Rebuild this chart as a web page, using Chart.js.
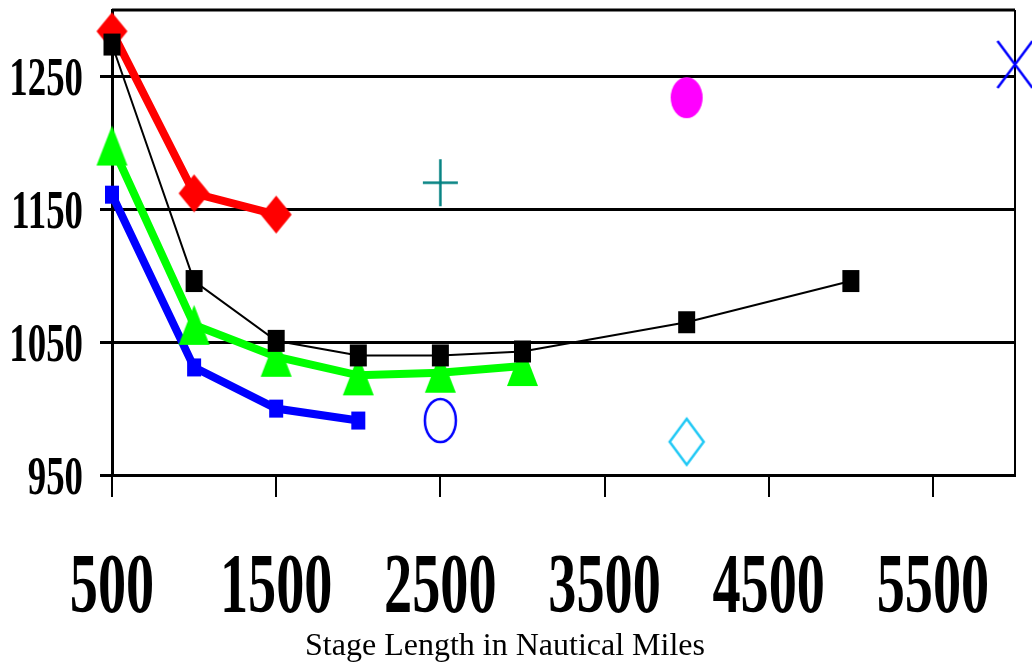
<!DOCTYPE html>
<html>
<head>
<meta charset="utf-8">
<script src="https://cdn.jsdelivr.net/npm/chart.js@4/dist/chart.umd.min.js"></script>
<style>
  html, body { margin: 0; padding: 0; background: #fff; }
</style>
</head>
<body>
<canvas id="stageChart" width="1032" height="663"></canvas>
<script>
// stage length (nautical miles) and values per series
const stagesRed = [500, 1000, 1500];
const valuesRed = [1284, 1162, 1146];
const stagesBlack = [500, 1000, 1500, 2000, 2500, 3000, 4000, 5000];
const valuesBlack = [1274, 1096, 1051, 1040, 1040, 1043, 1065, 1096];
const stagesGreen = [500, 1000, 1500, 2000, 2500, 3000];
const valuesGreen = [1198, 1063, 1039, 1025, 1027, 1032];
const stagesBlue = [500, 1000, 1500, 2000];
const valuesBlue = [1161, 1031, 1000, 991];

// single marker points: plus, open circle, filled ellipse, open diamond, x
const singleStages = [2500, 2500, 4000, 4000, 6000];
const singleValues = [1170, 991, 1234, 975, 1259];

const xTicks = [500, 1500, 2500, 3500, 4500, 5500];
const yTicks = [950, 1050, 1150, 1250];
const xTitle = 'Stage Length in Nautical Miles';

function pts(xs, ys) {
    return xs.map((x, i) => ({ x: x, y: ys[i] }));
}

// small canvas used as a point style (markers in the original are taller than wide)
function marker(shape, w, h, fill, stroke, lw) {
    const c = document.createElement('canvas');
    const pad = Math.ceil(lw || 0) + 1;
    c.width = w + pad * 2;
    c.height = h + pad * 2;
    const g = c.getContext('2d');
    const cx = c.width / 2, cy = c.height / 2, rx = w / 2, ry = h / 2;
    g.beginPath();
    if (shape === 'diamond') {
        g.moveTo(cx, cy - ry); g.lineTo(cx + rx, cy); g.lineTo(cx, cy + ry); g.lineTo(cx - rx, cy); g.closePath();
    } else if (shape === 'square') {
        g.rect(cx - rx, cy - ry, w, h);
    } else if (shape === 'triangle') {
        g.moveTo(cx, cy - ry); g.lineTo(cx + rx, cy + ry); g.lineTo(cx - rx, cy + ry); g.closePath();
    } else if (shape === 'ellipse') {
        g.ellipse(cx, cy, rx, ry, 0, 0, Math.PI * 2);
    } else if (shape === 'plus') {
        g.moveTo(cx - rx, cy); g.lineTo(cx + rx, cy); g.moveTo(cx, cy - ry); g.lineTo(cx, cy + ry);
    } else if (shape === 'x') {
        g.moveTo(cx - rx, cy - ry); g.lineTo(cx + rx, cy + ry); g.moveTo(cx + rx, cy - ry); g.lineTo(cx - rx, cy + ry);
    }
    if (fill) { g.fillStyle = fill; g.fill(); }
    if (stroke) { g.strokeStyle = stroke; g.lineWidth = lw; g.stroke(); }
    return c;
}

// draws text squeezed horizontally like the original labels
function narrowText(ctx, text, x, y, align, sx) {
    ctx.save();
    ctx.translate(x, y);
    ctx.scale(sx, 1);
    ctx.textAlign = align;
    ctx.textBaseline = 'alphabetic';
    ctx.fillText(text, 0, 0);
    ctx.restore();
}

const framePlugin = {
    id: 'frame',
    beforeDatasetsDraw(chart) {
        const { ctx, chartArea } = chart;
        ctx.save();
        ctx.strokeStyle = '#000';
        ctx.lineWidth = 3;
        ctx.beginPath();
        ctx.moveTo(chartArea.left, chartArea.top);
        ctx.lineTo(chartArea.right, chartArea.top);
        ctx.stroke();
        ctx.lineWidth = 2;
        ctx.beginPath();
        ctx.moveTo(chartArea.right, chartArea.top);
        ctx.lineTo(chartArea.right, chartArea.bottom);
        ctx.stroke();
        ctx.restore();
    },
    afterDraw(chart) {
        const { ctx, scales } = chart;
        ctx.save();
        ctx.fillStyle = '#000';
        ctx.font = 'bold 55px "Liberation Serif", serif';
        yTicks.forEach(v => {
            narrowText(ctx, String(v), 83, scales.y.getPixelForValue(v) + 19, 'right', 0.67);
        });
        ctx.font = 'bold 84px "Liberation Serif", serif';
        xTicks.forEach(v => {
            narrowText(ctx, String(v), scales.x.getPixelForValue(v), 612, 'center', 0.67);
        });
        ctx.font = '32px "Liberation Serif", serif';
        ctx.textAlign = 'center';
        ctx.textBaseline = 'alphabetic';
        ctx.fillText(xTitle, 505, 655);
        ctx.restore();
    }
};

const ctx = document.getElementById('stageChart').getContext('2d');
new Chart(ctx, {
    type: 'scatter',
    data: {
        datasets: [
            {
                label: 'Black',
                data: pts(stagesBlack, valuesBlack),
                showLine: true,
                borderColor: '#000',
                borderWidth: 2,
                pointStyle: marker('square', 17, 22, '#000'),
                pointRadius: 5,
                clip: false
            },
            {
                label: 'Red',
                data: pts(stagesRed, valuesRed),
                showLine: true,
                borderColor: '#ff0000',
                borderWidth: 8,
                pointStyle: marker('diamond', 31, 38, '#ff0000'),
                pointRadius: 5,
                clip: false
            },
            {
                label: 'Green',
                data: pts(stagesGreen, valuesGreen),
                showLine: true,
                borderColor: '#00ff00',
                borderWidth: 8,
                pointStyle: marker('triangle', 31, 40, '#00ff00'),
                pointRadius: 5,
                clip: false
            },
            {
                label: 'Blue',
                data: pts(stagesBlue, valuesBlue),
                showLine: true,
                borderColor: '#0000ff',
                borderWidth: 8,
                pointStyle: marker('square', 14, 18, '#0000ff'),
                pointRadius: 5,
                clip: false
            },
            {
                label: 'Single',
                data: pts(singleStages, singleValues),
                showLine: false,
                pointStyle: [
                    marker('plus', 35, 47, null, '#008080', 2.5),
                    marker('ellipse', 31, 43, null, '#0000ff', 2.5),
                    marker('ellipse', 32, 41, '#ff00ff'),
                    marker('diamond', 34, 46, null, '#1ec8f5', 2.5),
                    marker('x', 35, 47, null, '#0000ff', 2.5)
                ],
                pointRadius: 5,
                clip: false
            }
        ]
    },
    options: {
        responsive: false,
        animation: false,
        layout: { padding: { top: 10, right: 17, left: 0, bottom: 0 }, autoPadding: false },
        plugins: {
            legend: { display: false },
            tooltip: { enabled: false }
        },
        scales: {
            x: {
                type: 'linear',
                min: 500,
                max: 6000,
                afterBuildTicks: s => { s.ticks = xTicks.map(v => ({ value: v })); },
                afterFit: s => { s.height = 188; },
                ticks: { display: false },
                grid: { drawOnChartArea: false, color: '#000', lineWidth: 2, tickLength: 22 },
                border: { color: '#000', width: 3 }
            },
            y: {
                type: 'linear',
                min: 950,
                max: 1300,
                afterBuildTicks: s => { s.ticks = yTicks.map(v => ({ value: v })); },
                afterFit: s => { s.width = 112; },
                ticks: { display: false },
                grid: { color: '#000', lineWidth: 3, tickLength: 12 },
                border: { color: '#000', width: 3 }
            }
        }
    },
    plugins: [framePlugin]
});
</script>
</body>
</html>
